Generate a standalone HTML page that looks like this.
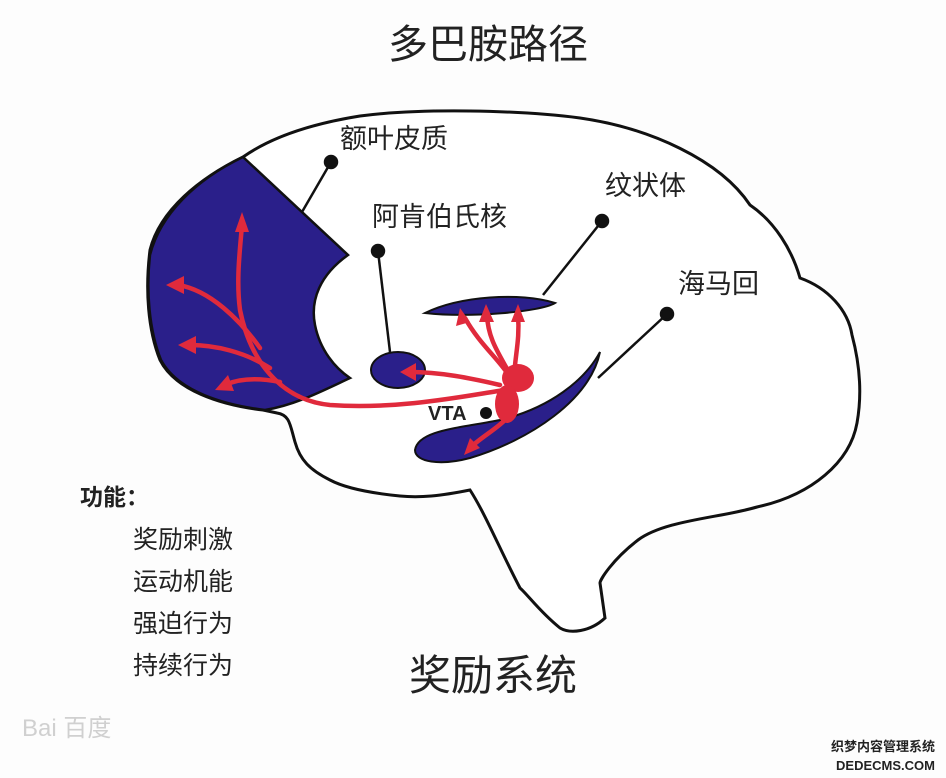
<!DOCTYPE html>
<html><head><meta charset="utf-8"><style>
html,body{margin:0;padding:0;background:#fdfdfd;}
svg{display:block}
text{font-family:"Liberation Sans","Noto Sans CJK SC",sans-serif;fill:#222}
</style></head><body>
<svg width="946" height="778" viewBox="0 0 946 778" xmlns="http://www.w3.org/2000/svg">
<rect width="946" height="778" fill="#fdfdfd"/>
<text x="488" y="58" font-size="40" text-anchor="middle">多巴胺路径</text>
<!-- brain outline -->
<path d="M243,157 C270,138 310,124 360,116 C420,108 520,110 580,118 C650,128 720,160 750,205 C775,222 792,250 800,278 C828,288 848,310 852,335 C860,365 862,395 857,423 C850,462 812,495 757,507 C720,518 665,520 638,540 C612,560 600,580 600,583 L605,618 C590,632 570,634 560,628 C540,612 528,595 520,588 C500,550 486,515 470,490 C440,496 420,498 400,496 C370,493 345,488 330,480 C310,470 300,460 295,442 C290,425 290,415 277,413 L263,410 C220,405 175,390 160,360 C148,330 145,290 150,250 C160,210 200,178 243,157 Z" fill="#fff" stroke="#111" stroke-width="3"/>
<!-- frontal blue -->
<path d="M243,157 L348,255 C320,275 310,300 315,325 C320,350 335,368 350,378 C320,392 295,405 265,410 C225,405 178,392 161,360 C149,330 146,290 150,255 C160,215 195,180 243,157 Z" fill="#2a1f8a" stroke="#111" stroke-width="2.5"/>
<!-- labels -->
<text x="340" y="148" font-size="27">额叶皮质</text>
<text x="372" y="226" font-size="27">阿肯伯氏核</text>
<text x="605" y="195" font-size="27">纹状体</text>
<text x="678" y="293" font-size="27">海马回</text>
<!-- leader lines -->
<g stroke="#111" stroke-width="2.5" fill="#111">
<line x1="331" y1="162" x2="302" y2="212"/><circle cx="331" cy="162" r="6"/>
<line x1="378" y1="251" x2="390" y2="352"/><circle cx="378" cy="251" r="6"/>
<line x1="602" y1="221" x2="543" y2="295"/><circle cx="602" cy="221" r="6"/>
<line x1="667" y1="314" x2="598" y2="378"/><circle cx="667" cy="314" r="6"/>
</g>
<!-- nucleus accumbens -->
<ellipse cx="398" cy="370" rx="27" ry="18" fill="#2a1f8a" stroke="#111" stroke-width="2"/>
<!-- striatum -->
<path d="M425,313 C460,296 520,292 555,303 C540,312 470,318 425,313 Z" fill="#2a1f8a" stroke="#111" stroke-width="2"/>
<!-- hippocampus -->
<path d="M600,352 C590,400 530,440 470,458 C440,466 415,462 415,450 C418,430 460,428 500,420 C550,408 585,380 600,352 Z" fill="#2a1f8a" stroke="#111" stroke-width="2"/>
<!-- red pathways -->
<g stroke="#e02a3c" stroke-width="4.5" fill="none" stroke-linecap="round">
<path d="M505,390 C470,395 400,410 330,405 C280,400 250,360 240,310 C236,280 240,250 242,225"/>
<path d="M260,348 C240,320 210,290 178,285"/>
<path d="M270,368 C245,352 215,345 190,345"/>
<path d="M280,382 C260,378 240,378 225,385"/>
<path d="M500,385 C470,378 440,372 410,372"/>
<path d="M512,380 C500,360 480,345 465,318"/>
<path d="M512,378 C500,355 488,340 487,315"/>
<path d="M514,378 C515,355 520,340 518,315"/>
<path d="M505,420 C495,430 480,438 470,448"/>
</g>
<g fill="#e02a3c">
<polygon points="242,212 235,232 249,232"/>
<polygon points="166,285 184,276 184,294"/>
<polygon points="178,345 196,336 196,354"/>
<polygon points="215,390 228,375 234,391"/>
<polygon points="400,372 416,363 416,381"/>
<polygon points="460,308 456,326 470,322"/>
<polygon points="486,304 479,322 494,322"/>
<polygon points="518,304 511,322 525,322"/>
<polygon points="464,455 470,438 480,448"/>
<ellipse cx="518" cy="378" rx="16" ry="14"/>
<ellipse cx="507" cy="404" rx="12" ry="19"/>
</g>
<text x="428" y="420" font-size="20" font-weight="bold" fill="#111">VTA</text>
<circle cx="486" cy="413" r="6" fill="#111"/>
<!-- function list -->
<text x="80" y="505" font-size="23" font-weight="bold">功能：</text>
<text x="133" y="548" font-size="25">奖励刺激</text>
<text x="133" y="590" font-size="25">运动机能</text>
<text x="133" y="632" font-size="25">强迫行为</text>
<text x="133" y="674" font-size="25">持续行为</text>
<text x="493" y="690" font-size="42" text-anchor="middle">奖励系统</text>
<text x="22" y="736" font-size="24" style="fill:#d0d0d0">Bai 百度</text>
<text x="935" y="751" font-size="13" text-anchor="end" font-weight="bold">织梦内容管理系统</text>
<text x="935" y="770" font-size="13" text-anchor="end" font-weight="bold">DEDECMS.COM</text>
</svg>
</body></html>
